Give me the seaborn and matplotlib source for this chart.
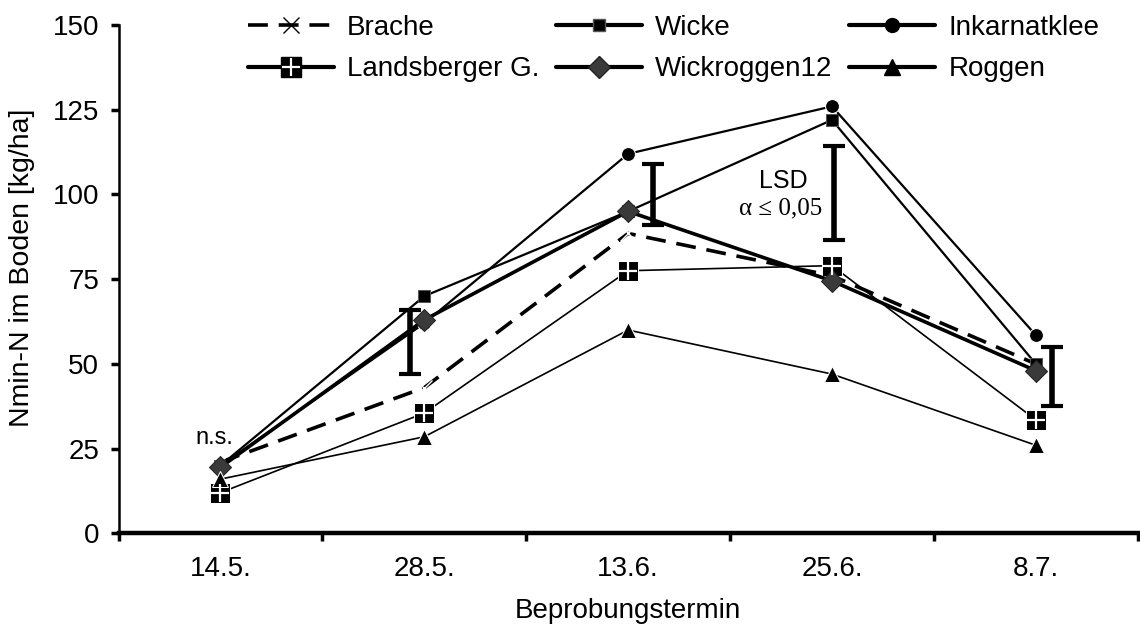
import numpy as np
import pandas as pd
import matplotlib
matplotlib.use("Agg")
import matplotlib.pyplot as plt
from matplotlib.lines import Line2D
import seaborn as sns

# data
termine = ["14.5.", "28.5.", "13.6.", "25.6.", "8.7."]
brache = [21, 43, 88.5, 76, 50]
wicke = [20, 70, 95, 122, 50]
inkarnatklee = [20, 62, 112, 126, 58.5]
landsberger = [12, 35.5, 77.5, 79, 33.5]
wickroggen12 = [19.5, 63, 95, 74.5, 48]
roggen = [16, 28.5, 60, 47, 26]

# LSD bars (alpha <= 0.05): centre, half width, small shift beside the points
lsd_idx = [1, 2, 3, 4]
lsd_mid = [56.5, 100, 100.4, 46.3]
lsd_half = [9.5, 8.9, 13.9, 8.6]
lsd_shift = [-0.07, 0.12, 0.01, 0.08]

sns.set_theme(style="white")
plt.rcParams["font.family"] = ["Liberation Sans", "DejaVu Sans"]
plt.rcParams.update({"text.color": "black", "axes.labelcolor": "black",
                     "xtick.color": "black", "ytick.color": "black"})

fig = plt.figure(figsize=(11.4, 6.26), dpi=100)
ax = fig.add_axes([0.104, 0.148, 0.894, 0.812])

fs = 20
x = np.arange(len(termine))

series = [
    ("Brache", brache, dict(color="black", lw=2.6, marker="x", markersize=11,
                            markeredgewidth=1.0), (0, (5.5, 3))),
    ("Wicke", wicke, dict(color="black", lw=1.6, marker="s", markersize=9,
                          markerfacecolor="black", markeredgecolor="#555555"), "-"),
    ("Inkarnatklee", inkarnatklee, dict(color="black", lw=1.6, marker="o", markersize=10), "-"),
    ("Landsberger G.", landsberger, dict(color="black", lw=1.2, marker="s", markersize=15), "-"),
    ("Wickroggen12", wickroggen12, dict(color="black", lw=2.6, marker="D", markersize=11,
                                        markerfacecolor="#3a3a3a", markeredgecolor="#222222"), "-"),
    ("Roggen", roggen, dict(color="black", lw=1.2, marker="^", markersize=12), "-"),
]

for name, vals, kw, ls in series:
    df = pd.DataFrame({"x": x, "y": vals})
    sns.lineplot(data=df, x="x", y="y", ax=ax, errorbar=None, **kw)
    ax.lines[-1].set_linestyle(ls)
    if name == "Landsberger G.":
        sns.scatterplot(data=df, x="x", y="y", ax=ax, marker="+", color="white",
                        s=170, linewidth=1.6, zorder=5)

# LSD bars
for i, m, h, s in zip(lsd_idx, lsd_mid, lsd_half, lsd_shift):
    ax.errorbar(i + s, m, yerr=h, fmt="none", ecolor="black", elinewidth=4,
                capsize=8, capthick=3, zorder=6)

ax.text(2.76, 104, "LSD", ha="center", va="center", fontsize=fs - 2)
ax.text(2.75, 96, "\u03b1 \u2264 0,05", ha="center", va="center", fontsize=fs - 2,
        family=["Liberation Serif", "DejaVu Serif"])
ax.text(-0.03, 28, "n.s.", ha="center", va="center", fontsize=fs - 3)

ax.set_xlim(-0.5, 4.5)
ax.set_ylim(0, 150)
ax.set_yticks([0, 25, 50, 75, 100, 125, 150])
ax.set_xticks(x)
ax.set_xticklabels(termine)
ax.set_xticks(np.arange(-0.5, 5.0, 1.0), minor=True)
ax.tick_params(axis="x", which="major", length=0, pad=16, labelsize=fs)
ax.tick_params(axis="x", which="minor", length=6, width=2.5, direction="out", bottom=True)
ax.tick_params(axis="y", length=6, width=2.5, direction="out", left=True, pad=8, labelsize=fs)
ax.set_xlabel("Beprobungstermin", fontsize=fs, labelpad=12)
ax.set_ylabel("Nmin-N im Boden [kg/ha]", fontsize=fs + 0.5)
ax.yaxis.set_label_coords(-0.082, 0.523)

for side in ["top", "right"]:
    ax.spines[side].set_visible(False)
ax.spines["left"].set_linewidth(1.8)
ax.spines["bottom"].set_linewidth(3.2)
ax.spines["left"].set_color("black")
ax.spines["bottom"].set_color("black")

# legend handles (thicker lines than in the plot)
h_brache = Line2D([], [], color="black", lw=2.6, ls=(0, (5.5, 3)), marker="x",
                  markersize=11, markeredgewidth=1.0)
h_wicke = Line2D([], [], color="black", lw=3, marker="s", markersize=9,
                 markeredgecolor="#555555")
h_inkarnat = Line2D([], [], color="black", lw=3, marker="o", markersize=10)
h_lands = (Line2D([], [], color="black", lw=3, marker="s", markersize=15),
           Line2D([], [], ls="none", marker="+", color="white", markersize=13,
                  markeredgewidth=1.6))
h_wr = Line2D([], [], color="black", lw=3, marker="D", markersize=11,
              markerfacecolor="#3a3a3a", markeredgecolor="#222222")
h_roggen = Line2D([], [], color="black", lw=3, marker="^", markersize=12)

handles = [h_brache, h_lands, h_wicke, h_wr, h_inkarnat, h_roggen]
labels = ["Brache", "Landsberger G.", "Wicke", "Wickroggen12", "Inkarnatklee", "Roggen"]
fig.legend(handles, labels, ncol=3, loc="upper left", bbox_to_anchor=(0.2175, 0.976),
           frameon=False, fontsize=fs, handlelength=3.1, handletextpad=0.47,
           columnspacing=0.6, labelspacing=0.55, borderpad=0, borderaxespad=0)

fig.savefig("out.png", dpi=100)
